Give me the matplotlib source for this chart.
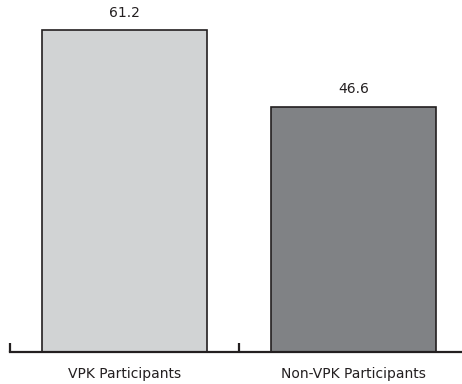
import matplotlib.pyplot as plt
from matplotlib.ticker import FixedLocator

categories = ['VPK Participants', 'Non-VPK Participants']
values = [61.2, 46.6]
colors = ['#d1d3d4', '#808285']

W, H = 462, 384
fig = plt.figure(figsize=(W / 100, H / 100), dpi=100)
ax = fig.add_axes([10 / W, 32 / H, 452 / W, 352 / H])

x = range(len(categories))
bars = ax.bar(x, values, width=0.72, color=colors, edgecolor='#231f20', linewidth=1.2)

for b, v in zip(bars, values):
    ax.text(b.get_x() + b.get_width() / 2, v + 2.0, f'{v:.1f}',
            ha='center', va='bottom', fontsize=10, color='#231f20')

ax.set_xlim(-0.5, -0.5 + 452 / 229)
ax.set_ylim(0, 352 / 5.26)

for s in ['top', 'right', 'left']:
    ax.spines[s].set_visible(False)
ax.spines['bottom'].set_linewidth(1.6)
ax.spines['bottom'].set_color('#231f20')
ax.set_yticks([])

ax.set_xticks(list(x))
ax.set_xticklabels(categories, fontsize=10, color='#231f20')
ax.tick_params(axis='x', which='major', length=0, pad=11)
ax.xaxis.set_minor_locator(FixedLocator([-0.5, 0.5]))
ax.tick_params(axis='x', which='minor', direction='in', length=6.5, width=1.6, color='#231f20')

fig.savefig('out.png', dpi=100)
